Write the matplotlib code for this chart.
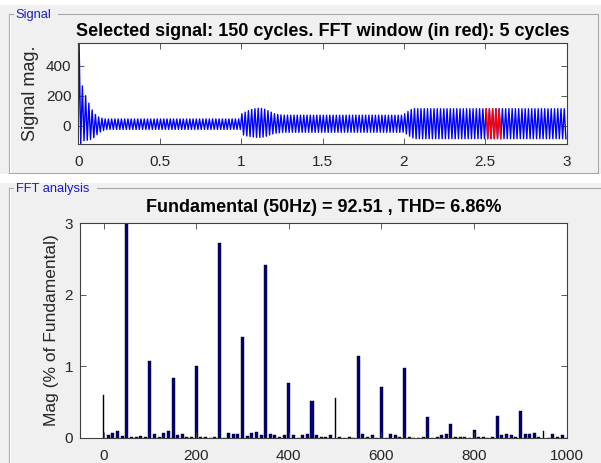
import numpy as np
import matplotlib
matplotlib.use("Agg")
import matplotlib.pyplot as plt
from matplotlib.lines import Line2D
from matplotlib.patches import Rectangle

plt.rcParams['font.family'] = ['Liberation Sans', 'DejaVu Sans']

W, H = 601, 463

# Signal: peak and trough of every 50 Hz cycle (150 cycles, 3 s)
f0 = 50
cycle_upper = ([549, 265, 200, 150, 105, 75, 58, 50] + [45] * 42
               + [80, 90, 100, 108, 113, 116, 115, 110, 100, 90, 80, 75, 72]
               + [70] * 37 + [80, 95, 108] + [113] * 47)
cycle_lower = ([-122, -100, -97, -92, -80, -60, -42, -32] + [-25] * 42
               + [-62, -68, -72, -75, -78, -78, -76, -70, -62, -55, -50, -47, -45]
               + [-44] * 37 + [-55, -70, -82] + [-87] * 47)
window_start, window_end = 2.5, 2.6

# FFT spectrum, 10 Hz resolution, % of fundamental
freqs = list(range(0, 1001, 10))
mags = [0.60, 0.04, 0.065, 0.10, 0.03, 100, 0.015, 0.015, 0.03, 0.015,
        1.07, 0.05, 0.015, 0.065, 0.10, 0.83, 0.04, 0.05, 0.015, 0.015,
        1.00, 0.015, 0.015, 0.0, 0.015, 2.72, 0.0, 0.065, 0.05, 0.05,
        1.41, 0.03, 0.065, 0.085, 0.04, 2.42, 0.05, 0.035, 0.015, 0.035,
        0.76, 0.035, 0.0, 0.035, 0.05, 0.52, 0.035, 0.015, 0.015, 0.035,
        0.56, 0.015, 0.0, 0.015, 0.0, 1.14, 0.05, 0.015, 0.035, 0.0,
        0.71, 0.0, 0.05, 0.035, 0.015, 0.98, 0.015, 0.0, 0.0, 0.015,
        0.285, 0.0, 0.015, 0.035, 0.05, 0.19, 0.015, 0.015, 0.015, 0.0,
        0.11, 0.015, 0.015, 0.0, 0.015, 0.30, 0.035, 0.05, 0.035, 0.015,
        0.37, 0.05, 0.05, 0.065, 0.015, 0.10, 0.0, 0.05, 0.015, 0.035,
        0.0]
black_bars = [0, 500, 950]

title_sig = "Selected signal: 150 cycles. FFT window (in red): 5 cycles"
title_fft = "Fundamental (50Hz) = 92.51 , THD= 6.86%"

bg = '#f0f0f0'
txt = '#262626'
panel_blue = '#1a1acc'

fig = plt.figure(figsize=(W / 100, H / 100), dpi=100, facecolor=bg)


def fx(x):
    return x / W


def fy(y):
    return 1 - y / H


def line(x0, y0, x1, y1, color, lw=0.8):
    fig.add_artist(Line2D([fx(x0), fx(x1)], [fy(y0), fy(y1)], color=color,
                          lw=lw, transform=fig.transFigure))


# white strips
fig.add_artist(Rectangle((0, fy(5)), 1, 5 / H, transform=fig.transFigure,
                         facecolor='white', edgecolor='none'))
fig.add_artist(Rectangle((0, fy(183)), 1, 9 / H, transform=fig.transFigure,
                         facecolor='white', edgecolor='none'))

# panel borders (etched)
dark, light = '#a8a8a8', 'white'
line(9, 14.3, 13, 14.3, dark); line(58, 14.3, 597.7, 14.3, dark)
line(9, 14.3, 9, 173, dark); line(597.7, 14.3, 597.7, 173, dark)
line(9, 173, 597.7, 173, dark)
line(10, 15.3, 10, 172, light)
line(9, 188.3, 13, 188.3, dark); line(97, 188.3, 601, 188.3, dark)
line(9, 188.3, 9, 463, dark)
line(10, 189.3, 10, 463, light)
fig.text(fx(15.5), fy(15), "Signal", color=panel_blue, fontsize=9.3, va='center')
fig.text(fx(15.5), fy(189), "FFT analysis", color=panel_blue, fontsize=9.3, va='center')

# ---- signal axes ----
ax1 = fig.add_axes([fx(78.3), fy(144), (566.7 - 78.3) / W, (144 - 43.3) / H])
t, y = [0.0], [0.0]
for k in range(len(cycle_upper)):
    t += [k / f0 + 0.25 / f0, k / f0 + 0.75 / f0]
    y += [cycle_upper[k], cycle_lower[k]]
t, y = np.array(t), np.array(y)
ax1.plot(t, y, color='blue', lw=1.0)
win = (t >= window_start) & (t <= window_end)
ax1.plot(t[win], y[win], color='red', lw=1.0)
ax1.set_xlim(0, 3)
ax1.set_ylim(y.min(), y.max())
ax1.set_xticks([0, 0.5, 1, 1.5, 2, 2.5, 3])
ax1.set_xticklabels(['0', '0.5', '1', '1.5', '2', '2.5', '3'])
ax1.set_yticks([0, 200, 400])
ax1.set_ylabel("Signal mag.", fontsize=13, color=txt, labelpad=5)
ax1.set_title(title_sig, fontsize=13, fontweight='bold', pad=5)

# ---- FFT axes ----
ax2 = fig.add_axes([fx(80), fy(437.7), (566.7 - 80) / W, (437.7 - 223.3) / H])
freqs_a = np.array(freqs)
mags_a = np.array(mags)
is_black = np.isin(freqs_a, black_bars)
ax2.bar(freqs_a[~is_black], mags_a[~is_black], width=6.5, color='#000080',
        edgecolor='black', linewidth=0.3)
ax2.bar(freqs_a[is_black], mags_a[is_black], width=2.5, color='black',
        edgecolor='black', linewidth=0.3)
ax2.set_xlim(-51, 1000)
ax2.set_ylim(0, 3)
ax2.set_xticks([0, 200, 400, 600, 800, 1000])
ax2.set_yticks([0, 1, 2, 3])
ax2.set_ylabel("Mag (% of Fundamental)", fontsize=12.5, color=txt, labelpad=4)
ax2.set_title(title_fft, fontsize=13, fontweight='bold', pad=8)

for ax in (ax1, ax2):
    ax.set_facecolor('white')
    for s in ax.spines.values():
        s.set_color('#404040')
        s.set_linewidth(0.8)
    ax.tick_params(direction='in', top=True, right=True, length=4,
                   width=0.6, color='#404040', labelsize=11, labelcolor=txt)
    ax.tick_params(axis='x', pad=8)
    ax.tick_params(axis='y', pad=5)

fig.savefig("out.png", dpi=100, facecolor=bg)
